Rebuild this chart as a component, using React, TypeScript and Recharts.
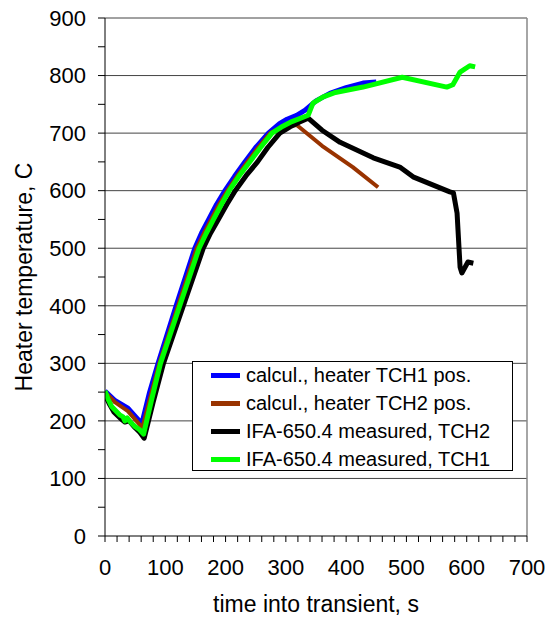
import React from 'react';
import { LineChart, Line, XAxis, YAxis, ReferenceLine } from 'recharts';

// calcul., heater TCH1 pos.
const blueTime = [0, 17, 38, 61, 74, 88, 118, 149, 160, 172, 185, 199, 215, 232, 250, 271, 290, 302, 318, 332, 350, 373, 400, 428, 450];
const blueTemp = [252, 235, 222, 195, 250, 300, 400, 500, 526, 550, 576, 600, 625, 650, 675, 700, 717, 724, 731, 740, 756, 769, 779, 787, 789];

// calcul., heater TCH2 pos.
const brownTime = [0, 17, 38, 62, 76, 90, 121, 152, 164, 176, 189, 203, 219, 236, 254, 274, 295, 318, 360, 411, 453];
const brownTemp = [250, 232, 217, 188, 245, 300, 400, 500, 526, 550, 576, 600, 625, 650, 675, 700, 711, 714, 678, 641, 606];

// IFA-650.4 measured, TCH2
const blackTime = [0, 8, 15, 25, 33, 40, 50, 58, 65, 80, 97, 130, 163, 175, 188, 202, 216, 234, 253, 270, 290, 307, 322, 337, 360, 390, 445, 489, 511, 572, 578, 584, 589, 592, 602, 611];
const blackTemp = [245, 228, 215, 205, 198, 200, 188, 180, 170, 233, 300, 400, 500, 526, 550, 576, 600, 626, 650, 675, 700, 711, 719, 726, 705, 684, 657, 641, 624, 598, 596, 561, 467, 457, 476, 474];

// IFA-650.4 measured, TCH1
const greenTime = [0, 5, 11, 25, 30, 33, 37, 42, 50, 57, 64, 78, 92, 124, 156, 168, 180, 193, 206, 222, 240, 258, 277, 295, 310, 337, 345, 362, 380, 428, 493, 567, 577, 589, 605, 614];
const greenTemp = [252, 238, 225, 210, 207, 200, 205, 198, 190, 185, 177, 240, 300, 400, 500, 526, 550, 576, 600, 625, 650, 675, 700, 712, 720, 731, 752, 763, 770, 780, 797, 780, 784, 806, 817, 815];

const seriesNames = [
  'calcul., heater TCH1 pos.',
  'calcul., heater TCH2 pos.',
  'IFA-650.4 measured, TCH2',
  'IFA-650.4 measured, TCH1',
];
const seriesColors = ['#0000FF', '#993300', '#000000', '#00FF00'];

const xTicks = [0, 20, 40, 60, 80, 100, 120, 140, 160, 180, 200, 220, 240, 260, 280, 300, 320, 340, 360, 380, 400, 420, 440, 460, 480, 500, 520, 540, 560, 580, 600, 620, 640, 660, 680, 700];
const yTicks = [0, 50, 100, 150, 200, 250, 300, 350, 400, 450, 500, 550, 600, 650, 700, 750, 800, 850, 900];
const gridValues = [100, 200, 300, 400, 500, 600, 700, 800, 900];

const xTitle = 'time into transient, s';
const yTitle = 'Heater temperature, C';

const FONT = '"Liberation Sans", Arial, sans-serif';

function pts(t: number[], v: number[]) {
  return t.map((x, i) => ({ t: x, v: v[i] }));
}

const seriesData = [
  pts(blueTime, blueTemp),
  pts(brownTime, brownTemp),
  pts(blackTime, blackTemp),
  pts(greenTime, greenTemp),
];
const seriesWidths = [5, 4, 5, 5];

const fmt = (v: number) => (v % 100 === 0 ? String(v) : '');

export default function App() {
  return (
    <div style={{ position: 'absolute', left: 0, top: 0, width: 556, height: 618, background: '#fff' }}>
      <LineChart width={556} height={618} margin={{ top: 18, right: 29, bottom: 0, left: 0 }}>
        <XAxis
          dataKey="t"
          type="number"
          domain={[0, 700]}
          ticks={xTicks}
          interval={0}
          tickFormatter={fmt}
          height={82}
          tickSize={6}
          tickMargin={17}
          stroke="#000"
          allowDataOverflow
          tick={{ fill: '#000', fontSize: 22, fontFamily: FONT }}
          label={() => (
            <text x={316} y={612} textAnchor="middle" fontSize={23} fontFamily={FONT} fill="#000">
              {xTitle}
            </text>
          )}
        />
        <YAxis
          type="number"
          domain={[0, 900]}
          ticks={yTicks}
          interval={0}
          tickFormatter={fmt}
          width={105}
          tickSize={7}
          tickMargin={12}
          stroke="#000"
          allowDataOverflow
          tick={{ fill: '#000', fontSize: 22, fontFamily: FONT }}
          label={() => (
            <text
              x={32}
              y={277}
              transform="rotate(-90 32 277)"
              textAnchor="middle"
              fontSize={23}
              fontFamily={FONT}
              fill="#000"
            >
              {yTitle}
            </text>
          )}
        />
        {gridValues.map((g) => (
          <ReferenceLine key={g} y={g} stroke="#444" strokeWidth={1} />
        ))}
        <ReferenceLine x={700} stroke="#888" strokeWidth={1.5} />
        {seriesData.map((d, i) => (
          <Line
            key={seriesNames[i]}
            data={d}
            dataKey="v"
            name={seriesNames[i]}
            type="linear"
            stroke={seriesColors[i]}
            strokeWidth={seriesWidths[i]}
            strokeLinejoin="round"
            dot={false}
            activeDot={false}
            isAnimationActive={false}
          />
        ))}
      </LineChart>
      <div
        style={{
          position: 'absolute',
          left: 192,
          top: 361,
          width: 321,
          height: 110,
          border: '1px solid #000',
          background: '#fff',
          boxSizing: 'border-box',
          fontFamily: FONT,
          fontSize: 20,
          color: '#000',
        }}
      >
        {seriesNames.map((n, i) => (
          <div
            key={n}
            style={{ position: 'absolute', left: 0, top: 0 + i * 28, height: 26, display: 'flex', alignItems: 'center', whiteSpace: 'nowrap' }}
          >
            <div style={{ marginLeft: 18, width: 29, height: 5, background: seriesColors[i] }} />
            <span style={{ marginLeft: 6 }}>{n}</span>
          </div>
        ))}
      </div>
    </div>
  );
}
